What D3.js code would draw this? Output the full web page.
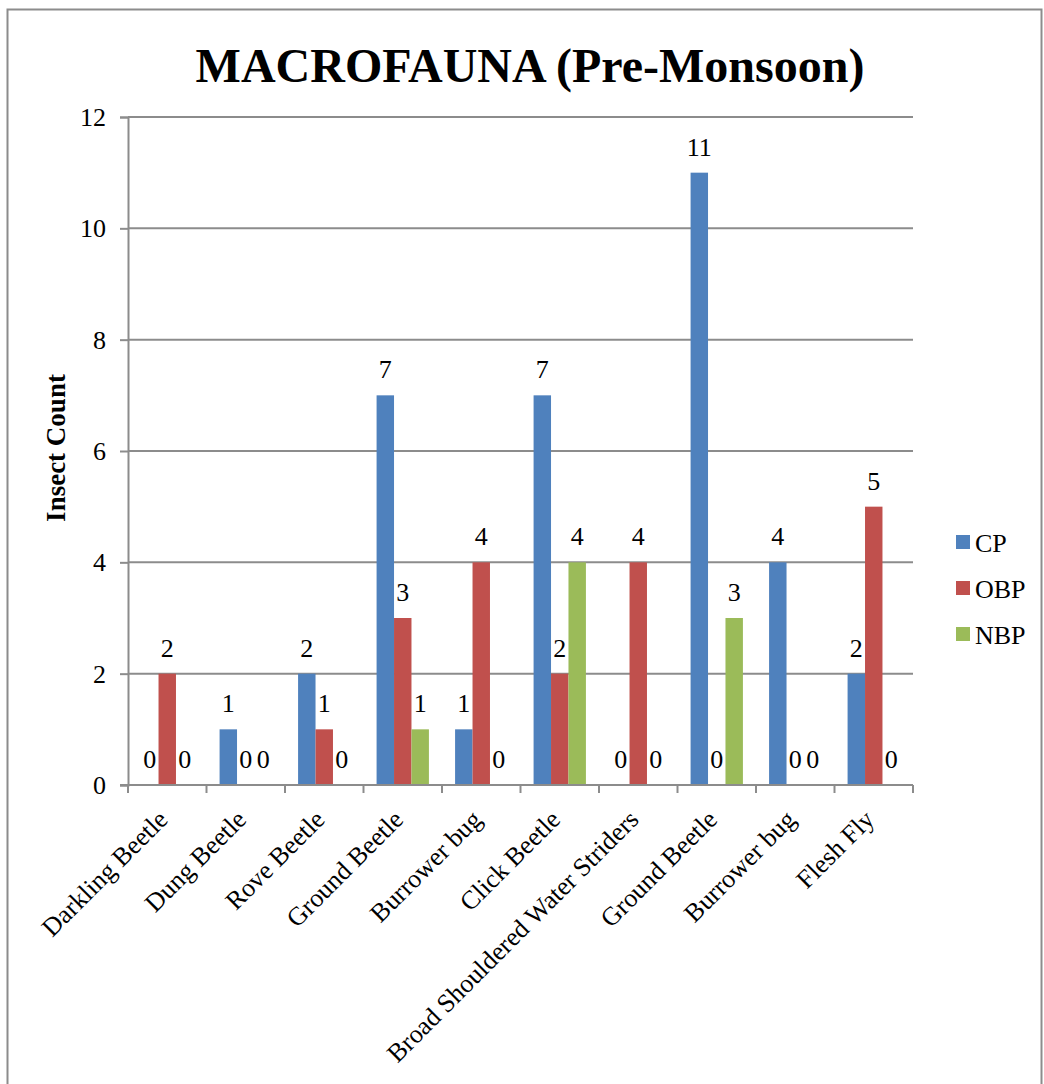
<!DOCTYPE html>
<html>
<head>
  <title>Macrofauna Pre-Monsoon</title>
  <script src="https://d3js.org/d3.v7.min.js"></script>
  <style>
    body { margin: 0; background: #fff; }
    svg { font-family: "Liberation Serif", "Times New Roman", serif; }
    svg text { font-family: "Liberation Serif", "Times New Roman", serif; fill: #000; }
  </style>
</head>
<body>
  <svg width="1044" height="1084"></svg>

  <script>
    const categories = ["Darkling Beetle", "Dung Beetle", "Rove Beetle", "Ground Beetle", "Burrower bug",
      "Click Beetle", "Broad Shouldered Water Striders", "Ground Beetle", "Burrower bug", "Flesh Fly"];
    const seriesNames = ["CP", "OBP", "NBP"];
    const cp  = [0, 1, 2, 7, 1, 7, 0, 11, 4, 2];
    const obp = [2, 0, 1, 3, 4, 2, 4, 0, 0, 5];
    const nbp = [0, 0, 0, 1, 0, 4, 0, 3, 0, 0];
    const yTicks = [0, 2, 4, 6, 8, 10, 12];
    const colors = ["#4F81BD", "#C0504D", "#9BBB59"];

    const values = [cp, obp, nbp];
    const svg = d3.select("svg");
    const margin = { top: 117, right: 131, bottom: 299, left: 128 };
    const W = 1044, H = 1084;
    const fs = 26;

    // chart border
    svg.append("rect")
      .attr("x", 7.5).attr("y", 9.5)
      .attr("width", 1034).attr("height", 1080)
      .attr("fill", "#fff").attr("stroke", "#8c8c8c").attr("stroke-width", 2);

    const idx = d3.range(categories.length);
    const x0 = d3.scaleBand()
      .domain(idx)
      .range([margin.left, W - margin.right]);

    const bw = x0.bandwidth();
    const barW = bw / 4.5;
    const x1 = d3.scaleBand()
      .domain(seriesNames)
      .range([(bw - 3 * barW) / 2, (bw + 3 * barW) / 2]);

    const y = d3.scaleLinear()
      .domain([0, 12])
      .range([H - margin.bottom, margin.top]);

    // gridlines
    svg.append("g")
      .selectAll("line")
      .data(yTicks.slice(1))
      .join("line")
      .attr("x1", margin.left).attr("x2", W - margin.right)
      .attr("y1", d => y(d)).attr("y2", d => y(d))
      .attr("stroke", "#8c8c8c").attr("stroke-width", 2);

    // y axis
    const yAxis = svg.append("g")
      .attr("transform", `translate(${margin.left},0)`)
      .call(d3.axisLeft(y).tickValues(yTicks).tickSize(8).tickPadding(14));
    yAxis.select(".domain").attr("stroke", "#8c8c8c").attr("stroke-width", 2);
    yAxis.selectAll(".tick line").attr("stroke", "#8c8c8c").attr("stroke-width", 2);
    yAxis.selectAll("text").attr("font-size", fs).attr("dy", "0.33em");

    // bars
    const groups = svg.append("g")
      .selectAll("g")
      .data(idx)
      .join("g")
      .attr("transform", i => `translate(${x0(i)},0)`);

    groups.selectAll("rect")
      .data(i => seriesNames.map((s, k) => ({ s, k, v: values[k][i] })))
      .join("rect")
      .attr("x", d => x1(d.s))
      .attr("width", x1.bandwidth())
      .attr("y", d => y(d.v))
      .attr("height", d => y(0) - y(d.v))
      .attr("fill", d => colors[d.k]);

    groups.selectAll("text")
      .data(i => seriesNames.map((s, k) => ({ s, k, v: values[k][i] })))
      .join("text")
      .attr("x", d => x1(d.s) + x1.bandwidth() / 2)
      .attr("y", d => y(d.v) - 17)
      .attr("text-anchor", "middle")
      .attr("font-size", fs)
      .text(d => d.v);

    // x axis
    const xAxisY = y(0);
    const xg = svg.append("g");
    xg.append("line")
      .attr("x1", margin.left - 8).attr("x2", W - margin.right)
      .attr("y1", xAxisY).attr("y2", xAxisY)
      .attr("stroke", "#8c8c8c").attr("stroke-width", 2);
    xg.selectAll(".cat-tick")
      .data(idx.concat([categories.length]))
      .join("line")
      .attr("x1", i => margin.left + i * bw).attr("x2", i => margin.left + i * bw)
      .attr("y1", xAxisY).attr("y2", xAxisY + 8)
      .attr("stroke", "#8c8c8c").attr("stroke-width", 2);

    xg.selectAll(".cat-label")
      .data(idx)
      .join("text")
      .attr("transform", i => `translate(${x0(i) + bw / 2 + 2},${xAxisY + 36}) rotate(-45)`)
      .attr("text-anchor", "end")
      .attr("font-size", fs)
      .text(i => categories[i]);

    // title
    svg.append("text")
      .attr("x", 530).attr("y", 82)
      .attr("text-anchor", "middle")
      .attr("font-size", 48).attr("font-weight", "bold")
      .text("MACROFAUNA (Pre-Monsoon)");

    // y axis title
    svg.append("text")
      .attr("transform", `translate(65,448) rotate(-90)`)
      .attr("text-anchor", "middle")
      .attr("font-size", 27).attr("font-weight", "bold")
      .text("Insect Count");

    // legend
    const legend = svg.append("g")
      .selectAll("g")
      .data(seriesNames)
      .join("g")
      .attr("transform", (d, k) => `translate(956,${535 + k * 46})`);
    legend.append("rect")
      .attr("width", 14).attr("height", 14)
      .attr("fill", (d, k) => colors[k]);
    legend.append("text")
      .attr("x", 19).attr("y", 17)
      .attr("font-size", fs)
      .text(d => d);
  </script>
</body>
</html>
